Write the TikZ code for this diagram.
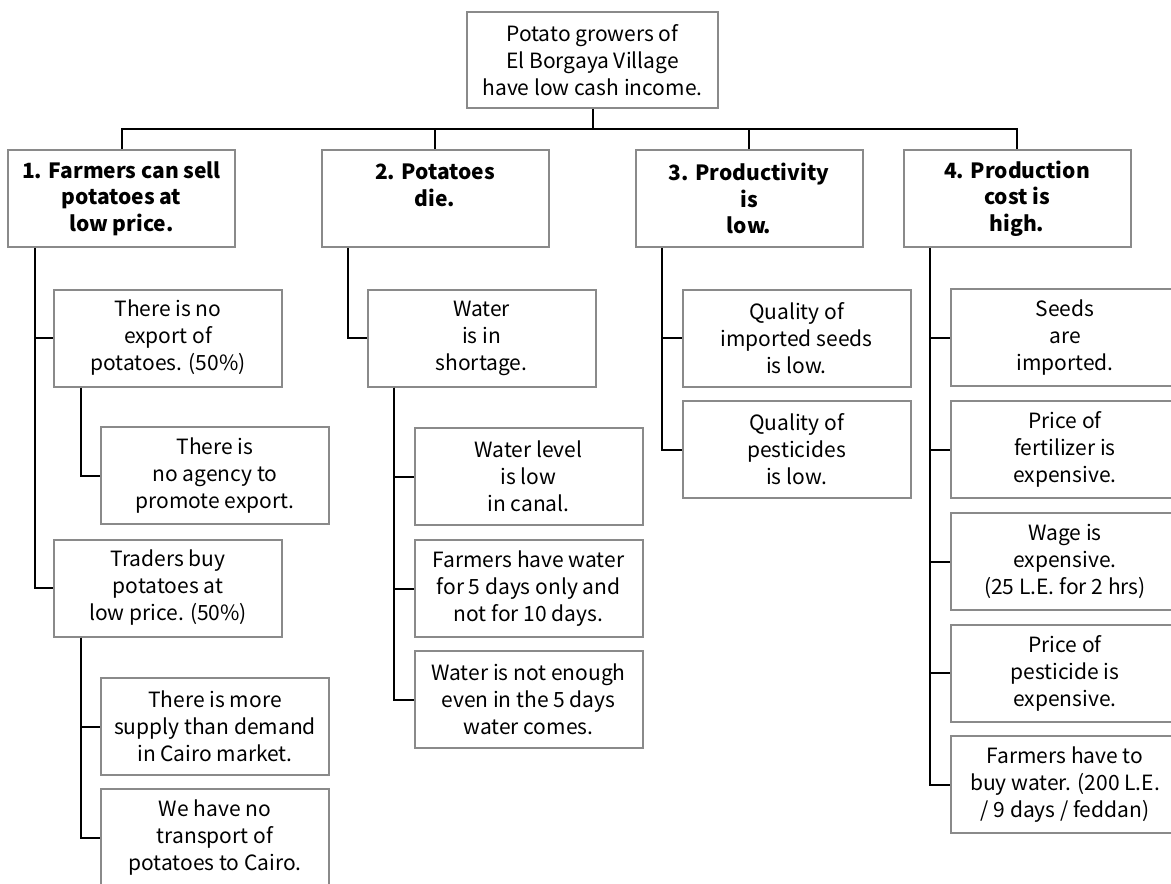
\documentclass[tikz,border=0pt]{standalone}
\usepackage{fontspec}
\setmainfont{Noto Sans CJK JP}
\begin{document}
\begin{tikzpicture}[x=1pt,y=-1pt,
  box/.style={draw=boxgray,line width=2pt,fill=white,inner sep=0pt,align=center,
    font=\fontsize{21}{27}\selectfont},
  sub/.style={box,minimum width=228pt,minimum height=97pt},
  head/.style={box,minimum width=227pt,minimum height=97pt,
    font=\fontsize{21}{26.5}\selectfont\bfseries},
  link/.style={line width=2pt,black}]
\definecolor{boxgray}{HTML}{8A8A8A}
\useasboundingbox (0,0) rectangle (1171,884);
\clip (0,0) rectangle (1171,884);

% problem at the top
\node[box,minimum width=251pt,minimum height=96pt] (top) at (592.5,60)
  {Potato growers of\\El Borgaya Village\\have low cash income.};

% four direct causes
\node[head] (n1) at (121.5,198.5) {1. Farmers can sell\\potatoes at\\low price.};
\node[head] (n2) at (435,198.5) {2. Potatoes\\die.\\~};
\node[head] (n3) at (749,198.5) {3. Productivity\\is\\low.};
\node[head] (n4) at (1017,198.5) {4. Production\\cost is\\high.};

% branch 1
\node[sub] (a1)  at (168,338)   {There is no\\export of\\potatoes. (50\%)};
\node[sub] (a11) at (215,475.5) {There is\\no agency to\\promote export.};
\node[sub] (a2)  at (168,588)   {Traders buy\\potatoes at\\low price. (50\%)};
\node[sub] (a21) at (215,726.5) {There is more\\supply than demand\\in Cairo market.};
\node[sub] (a22) at (215,837.5) {We have no\\transport of\\potatoes to Cairo.};

% branch 2
\node[sub] (b1)  at (481.5,338)   {Water\\is in\\shortage.};
\node[sub] (b11) at (528.5,476.5) {Water level\\is low\\in canal.};
\node[sub] (b12) at (528.5,588.5) {Farmers have water\\for 5 days only and\\not for 10 days.};
\node[sub] (b13) at (528.5,699.5) {Water is not enough\\even in the 5 days\\water comes.};

% branch 3
\node[sub] (c1) at (796.5,338)   {Quality of\\imported seeds\\is low.};
\node[sub] (c2) at (796.5,449.5) {Quality of\\pesticides\\is low.};

% branch 4
\node[sub] (d1) at (1065,337.5) {Seeds\\are\\imported.};
\node[sub] (d2) at (1065,449.5) {Price of\\fertilizer is\\expensive.};
\node[sub] (d3) at (1065,561.5) {Wage is\\expensive.\\(25 L.E. for 2 hrs)};
\node[sub] (d4) at (1065,673)   {Price of\\pesticide is\\expensive.};
\node[sub] (d5) at (1065,784.5) {Farmers have to\\buy water. (200 L.E.\\/ 9 days / feddan)};

% connectors
\draw[link] (top.south) -- ++(0,20) coordinate (hub);
\draw[link] (n1.north) |- (hub) -| (n4.north);
\draw[link] (n2.north) -- (n2.north |- hub);
\draw[link] (n3.north) -- (n3.north |- hub);

\foreach \p/\c in {n1/a1,n1/a2,a1/a11,a2/a21,a2/a22,
                   n2/b1,b1/b11,b1/b12,b1/b13,
                   n3/c1,n3/c2,
                   n4/d1,n4/d2,n4/d3,n4/d4,n4/d5}
  \draw[link] ([xshift=27.5pt]\p.south west) |- (\c.west);
\end{tikzpicture}
\end{document}
